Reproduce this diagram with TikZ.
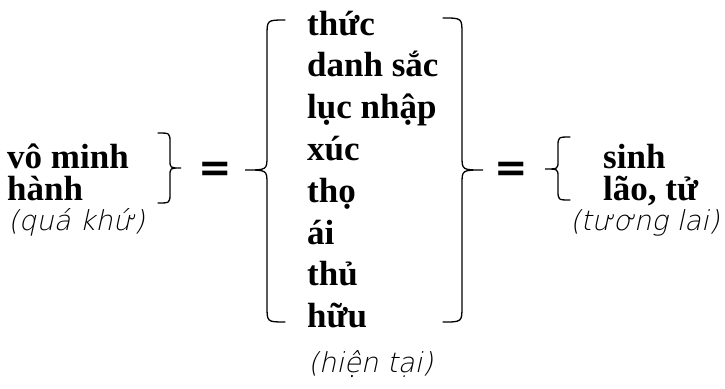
\documentclass[tikz,border=0pt]{standalone}
\usepackage{fontspec}
\setmainfont{Liberation Serif}
\newfontfamily\notefont[FakeSlant=0.22]{DejaVu Sans ExtraLight}
\newfontfamily\eqfont{DejaVu Sans}

\begin{document}
\begin{tikzpicture}[x=1pt,y=-1pt,
	word/.style={anchor=base west,inner sep=0pt,font=\fontsize{35}{40}\selectfont\bfseries},
	note/.style={anchor=base west,inner sep=0pt,font=\fontsize{27.5}{34}\selectfont\notefont},
	equal/.style={inner sep=0pt,font=\fontsize{40}{40}\selectfont\eqfont\bfseries},
	curly/.style={line width=1.3pt,line cap=round}]
	\useasboundingbox (0,0) rectangle (725,388);
	% past
	\node[word] (vo) at (7,168) {vô minh};
	\node[word] (hanh) at (7,200) {hành};
	\node[note] (past) at (8,230) {(quá khứ)};
	\draw[curly] (158,133) .. controls (170,133) .. (170,143) -- (170,160)
		.. controls (170,168) .. (181,168) .. controls (170,168) .. (170,176)
		-- (170,193) .. controls (170,203) .. (158,203);
	\node[equal] (eqL) at (215,172) {=};
	% present
	\draw[curly] (285,20) .. controls (267,20) .. (267,36) -- (267,156)
		.. controls (267,170) .. (245,170) .. controls (267,170) .. (267,184)
		-- (267,306) .. controls (267,322) .. (285,322);
	\foreach \w [count=\i from 0] in {thức,danh sắc,lục nhập,xúc,thọ,ái,thủ,hữu}{
		\node[word] (n\i) at (307,35+41.8*\i) {\w};
	}
	\node[note] (now) at (308,372) {(hiện tại)};
	\draw[curly] (443,18) .. controls (462,18) .. (462,34) -- (462,156)
		.. controls (462,170) .. (483,170) .. controls (462,170) .. (462,184)
		-- (462,306) .. controls (462,322) .. (443,322);
	\node[equal] (eqR) at (511,172) {=};
	% future
	\draw[curly] (570,137) .. controls (558,137) .. (558,147) -- (558,161)
		.. controls (558,169) .. (545,169) .. controls (558,169) .. (558,177)
		-- (558,190) .. controls (558,200) .. (570,200);
	\node[word] (sinh) at (603,168) {sinh};
	\node[word] (lao) at (603,200) {lão, tử};
	\node[note] (future) at (570,230) {(tương lai)};
\end{tikzpicture}
\end{document}
